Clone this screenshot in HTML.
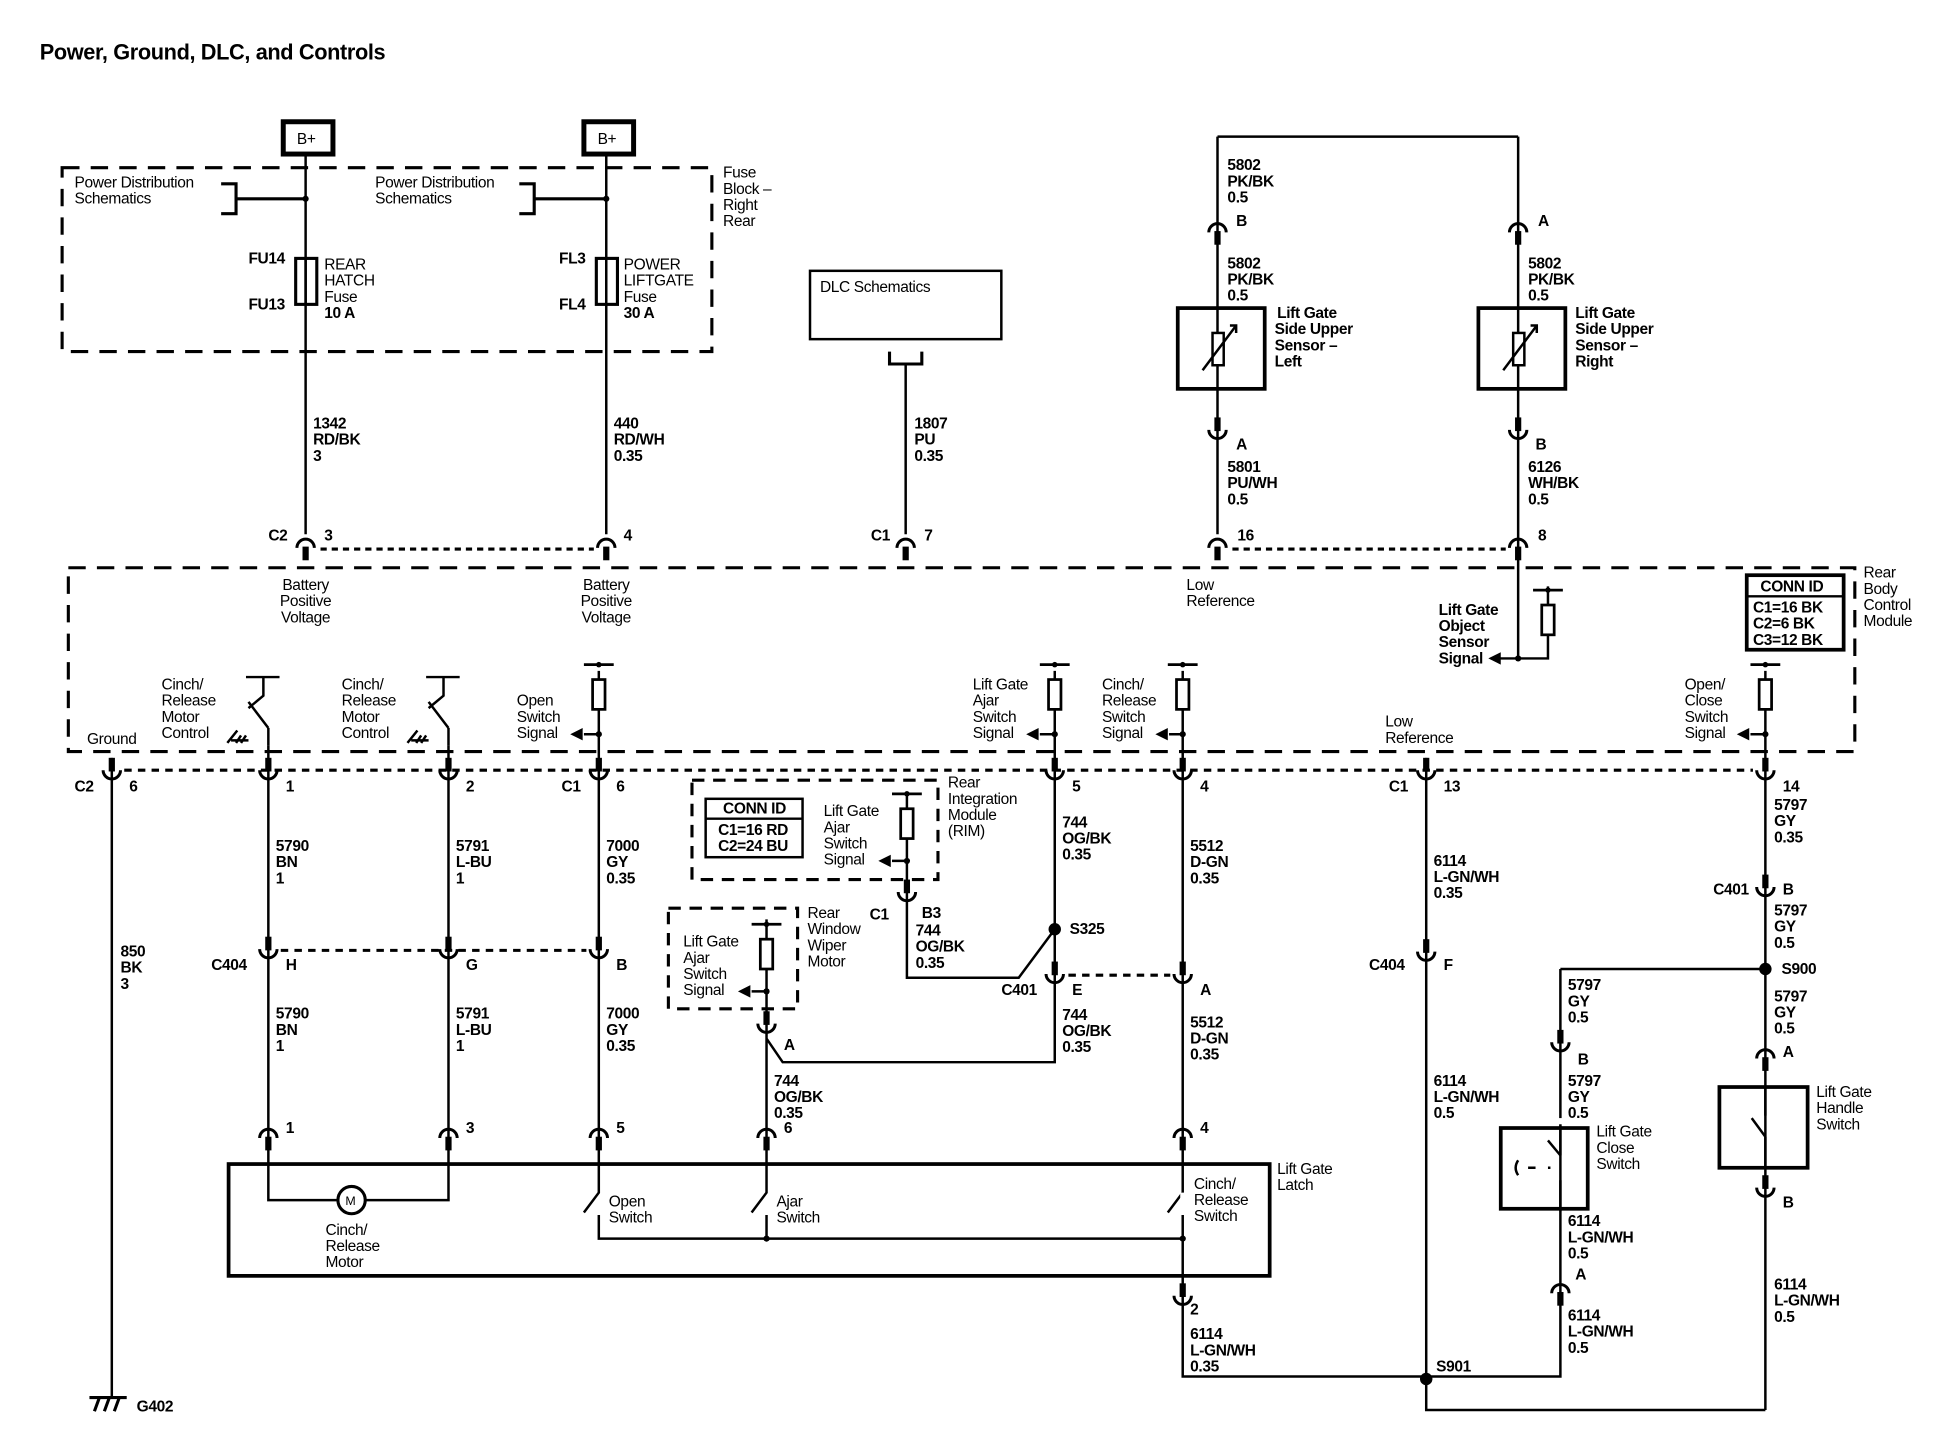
<!DOCTYPE html>
<html><head><meta charset="utf-8"><style>
html,body{margin:0;padding:0;background:#fff}
svg{display:block}
text{font-family:"Liberation Sans",Arial,sans-serif;font-size:12.5px;fill:#000;letter-spacing:-0.3px}
.b{font-weight:bold}
</style></head><body>
<svg width="1948" height="1456" viewBox="0 0 1568 1172" preserveAspectRatio="none" xmlns="http://www.w3.org/2000/svg">
<defs>
<g id="c"><path d="M-7,-4 A7,7 0 0 0 7,-4" fill="none" stroke="#000" stroke-width="2.4"/><rect x="-2.5" y="-14" width="5" height="11"/></g>
<g id="d"><path d="M-7,4 A7,7 0 0 1 7,4" fill="none" stroke="#000" stroke-width="2.4"/><rect x="-2.5" y="3" width="5" height="11"/></g>
<g id="r"><line x1="-12" y1="-22" x2="12" y2="-22" stroke="#000" stroke-width="2.2"/><circle cx="0" cy="-22" r="2.2"/><rect x="-5" y="-10" width="10" height="24" fill="#fff" stroke="#000" stroke-width="2.2"/></g>
</defs>
<g stroke="#000" fill="none" stroke-width="2">
<text x="32" y="48" class="b" style="font-size:17.5px;stroke:none">Power, Ground, DLC, and Controls</text>
<rect x="228" y="98" width="40" height="26" stroke-width="4"/>
<rect x="470" y="98" width="40" height="26" stroke-width="4"/>
<rect x="50" y="135" width="523" height="148" stroke-dasharray="14,9" stroke-width="2.5"/>
<rect x="55" y="457" width="1438" height="148" stroke-dasharray="14,9" stroke-width="2.5"/>
<rect x="557" y="628" width="198" height="80" stroke-dasharray="10,7" stroke-width="2.5"/>
<rect x="538" y="731" width="104" height="81" stroke-dasharray="10,7" stroke-width="2.5"/>
<rect x="568" y="643" width="78" height="47" stroke-width="2"/><line x1="568" y1="659" x2="646" y2="659"/>
<rect x="1406" y="463" width="78" height="60" stroke-width="3"/><line x1="1406" y1="480" x2="1484" y2="480"/>
<rect x="652" y="218" width="154" height="55"/>
<path d="M716,283 V293 H742 V283" stroke-width="2.5"/>
<path d="M246,126 V430 M488,126 V430 M729,293 V430"/>
<path d="M178,148 H190 V172 H178 M190,160 H246" stroke-width="2.5"/>
<path d="M418,148 H430 V172 H418 M430,160 H488" stroke-width="2.5"/>
<rect x="238" y="208" width="17" height="37" stroke-width="2.5"/><line x1="246" y1="208" x2="246" y2="245"/>
<rect x="480" y="208" width="17" height="37" stroke-width="2.5"/><line x1="488" y1="208" x2="488" y2="245"/>
<path d="M980,110 H1222 M980,110 V430 M1222,110 V530 H1200"/>
<rect x="948" y="248" width="70" height="65" stroke-width="3"/>
<rect x="1190" y="248" width="70" height="65" stroke-width="3"/>
<rect x="976" y="268" width="9" height="26" fill="#fff"/><line x1="968" y1="298" x2="995" y2="262"/><path d="M990,262 H995 V268"/>
<rect x="1218" y="268" width="9" height="26" fill="#fff"/><line x1="1210" y1="298" x2="1237" y2="262"/><path d="M1232,262 H1237 V268"/>
<path d="M1246,472 V530 H1222"/>
<path d="M258,442 H478 M992,442 H1212" stroke-dasharray="5,4" stroke-width="2.5"/>
<path d="M100,620 H1411" stroke-dasharray="6,5" stroke-width="2.5"/>
<path d="M226,765 H472" stroke-dasharray="6,5" stroke-width="2.5"/>
<path d="M860,785 H942" stroke-dasharray="6,5" stroke-width="2.5"/>
<path d="M216,600 V937 M361,600 V937 M482,540 V937 M849,540 V855 H630 L617,836 M617,740 V937 M952,540 V937 M1148,610 V1135 H1421 M1421,540 V1135 M90,610 V1125"/>
<path d="M730,637 V787 H820 L849,748"/>
<path d="M198,545 H225 M212,545 V560 L200,570 M216,586 L200,565"/>
<path d="M343,545 H370 M357,545 V560 L345,570 M361,586 L345,565"/>
<path d="M183,598 L191,588 M186,596 H200 M190,598 L194,592 M194,598 L198,592"/>
<path d="M328,598 L336,588 M331,596 H345 M335,598 L339,592 M339,598 L343,592"/>
<path d="M216,586 V600 M361,586 V600"/>
<rect x="184" y="937" width="838" height="90" stroke-width="3"/>
<path d="M216,937 V966 H272 M294,966 H361 V937"/>
<circle cx="283" cy="966" r="11" stroke-width="2.5"/>
<path d="M482,937 V960 L470,976 M482,978 V997 H952 M617,937 V960 L605,976 M617,978 V997 M952,937 V960 L940,976 M952,978 V1108 H1148"/>
<path d="M1256,780 H1421 M1256,780 V1108 H1148"/>
<rect x="1208" y="908" width="70" height="65" stroke-width="3"/>
<rect x="1384" y="875" width="71" height="65" stroke-width="3"/>
<rect x="1230" y="900" width="52" height="6" stroke="none" fill="#fff"/>
<path d="M1256,930 L1246,918 M1256,950 V975 M1256,905 V930"/>
<path d="M1248,940 H1246 M1230,940 H1236 M1222,934 Q1218,940 1222,946"/>
<path d="M1421,875 V898 M1421,915 L1410,900 M1421,915 V940"/>
<path d="M72,1125 H102 M76,1136 L80,1125 M84,1136 L88,1125 M92,1136 L96,1125" stroke-width="2.5"/>
</g>
<g fill="#000">
<rect x="950" y="960" width="4" height="18" fill="#fff"/>
<circle cx="246" cy="160" r="2.5"/><circle cx="488" cy="160" r="2.5"/>
<circle cx="849" cy="748" r="5"/><circle cx="1421" cy="780" r="5"/><circle cx="1148" cy="1110" r="5"/>
<circle cx="617" cy="997" r="2.5"/><circle cx="952" cy="997" r="2.5"/><circle cx="1222" cy="530" r="2.5"/>
<circle cx="482" cy="591" r="2.5"/><circle cx="849" cy="591" r="2.5"/><circle cx="952" cy="591" r="2.5"/><circle cx="1421" cy="591" r="2.5"/>
<circle cx="730" cy="693" r="2.5"/><circle cx="617" cy="798" r="2.5"/>
<path d="M1198,530 l10,-5 v10z"/>
<path d="M459,591 l10,-5 v10z M826,591 l10,-5 v10z M930,591 l10,-5 v10z M1398,591 l10,-5 v10z M707,693 l10,-5 v10z M594,798 l10,-5 v10z"/>
<path d="M470,591 H482 M837,591 H849 M941,591 H952 M1409,591 H1421 M718,693 H730 M605,798 H617" stroke="#000" stroke-width="2"/>
<use href="#r" x="1246" y="497"/><use href="#r" x="482" y="557"/><use href="#r" x="849" y="557"/><use href="#r" x="952" y="557"/><use href="#r" x="1421" y="557"/><use href="#r" x="730" y="661"/><use href="#r" x="617" y="766"/>
<use href="#d" x="246" y="437"/><use href="#d" x="488" y="437"/><use href="#d" x="729" y="437"/><use href="#d" x="980" y="437"/><use href="#d" x="1222" y="437"/>
<use href="#d" x="980" y="183"/><use href="#d" x="1222" y="183"/><use href="#c" x="980" y="350"/><use href="#c" x="1222" y="350"/>
<use href="#c" x="90" y="624"/><use href="#c" x="216" y="624"/><use href="#c" x="361" y="624"/><use href="#c" x="482" y="624"/><use href="#c" x="849" y="624"/><use href="#c" x="952" y="624"/><use href="#c" x="1148" y="624"/><use href="#c" x="1421" y="624"/>
<use href="#c" x="216" y="768"/><use href="#c" x="361" y="768"/><use href="#c" x="482" y="768"/><use href="#c" x="1148" y="770"/>
<use href="#c" x="849" y="788"/><use href="#c" x="952" y="788"/><use href="#c" x="730" y="722"/><use href="#c" x="617" y="828"/>
<use href="#d" x="216" y="912"/><use href="#d" x="361" y="912"/><use href="#d" x="482" y="912"/><use href="#d" x="617" y="912"/><use href="#d" x="952" y="912"/>
<use href="#c" x="1421" y="718"/><use href="#d" x="1421" y="848"/><use href="#c" x="1421" y="960"/>
<use href="#c" x="1256" y="843"/><use href="#d" x="1256" y="1037"/><use href="#c" x="952" y="1047"/>
</g>
<g>
<text x="239" y="116">B+</text><text x="481" y="116">B+</text>
<text x="60" y="151">Power Distribution<tspan x="60" dy="13">Schematics</tspan></text>
<text x="302" y="151">Power Distribution<tspan x="302" dy="13">Schematics</tspan></text>
<text x="582" y="143">Fuse<tspan x="582" dy="13">Block –</tspan><tspan x="582" dy="13">Right</tspan><tspan x="582" dy="13">Rear</tspan></text>
<text x="200" y="212" class="b">FU14</text><text x="200" y="249" class="b">FU13</text>
<text x="261" y="217">REAR<tspan x="261" dy="13">HATCH</tspan><tspan x="261" dy="13">Fuse</tspan><tspan x="261" dy="13" class="b">10 A</tspan></text>
<text x="450" y="212" class="b">FL3</text><text x="450" y="249" class="b">FL4</text>
<text x="502" y="217">POWER<tspan x="502" dy="13">LIFTGATE</tspan><tspan x="502" dy="13">Fuse</tspan><tspan x="502" dy="13" class="b">30 A</tspan></text>
<text x="660" y="235">DLC Schematics</text>
<g class="b">
<text x="252" y="345">1342<tspan x="252" dy="13">RD/BK</tspan><tspan x="252" dy="13">3</tspan></text>
<text x="494" y="345">440<tspan x="494" dy="13">RD/WH</tspan><tspan x="494" dy="13">0.35</tspan></text>
<text x="736" y="345">1807<tspan x="736" dy="13">PU</tspan><tspan x="736" dy="13">0.35</tspan></text>
<text x="988" y="137">5802<tspan x="988" dy="13">PK/BK</tspan><tspan x="988" dy="13">0.5</tspan></text>
<text x="995" y="182">B</text><text x="1238" y="182">A</text>
<text x="988" y="216">5802<tspan x="988" dy="13">PK/BK</tspan><tspan x="988" dy="13">0.5</tspan></text>
<text x="1230" y="216">5802<tspan x="1230" dy="13">PK/BK</tspan><tspan x="1230" dy="13">0.5</tspan></text>
<text x="995" y="362">A</text><text x="1236" y="362">B</text>
<text x="988" y="380">5801<tspan x="988" dy="13">PU/WH</tspan><tspan x="988" dy="13">0.5</tspan></text>
<text x="1230" y="380">6126<tspan x="1230" dy="13">WH/BK</tspan><tspan x="1230" dy="13">0.5</tspan></text>
<text x="216" y="435">C2</text><text x="261" y="435">3</text><text x="502" y="435">4</text><text x="701" y="435">C1</text><text x="744" y="435">7</text><text x="996" y="435">16</text><text x="1238" y="435">8</text>
<text x="60" y="637">C2</text><text x="104" y="637">6</text><text x="230" y="637">1</text><text x="375" y="637">2</text><text x="452" y="637">C1</text><text x="496" y="637">6</text><text x="863" y="637">5</text><text x="966" y="637">4</text><text x="1118" y="637">C1</text><text x="1162" y="637">13</text><text x="1435" y="637">14</text>
<text x="222" y="685">5790<tspan x="222" dy="13">BN</tspan><tspan x="222" dy="13">1</tspan></text>
<text x="367" y="685">5791<tspan x="367" dy="13">L-BU</tspan><tspan x="367" dy="13">1</tspan></text>
<text x="488" y="685">7000<tspan x="488" dy="13">GY</tspan><tspan x="488" dy="13">0.35</tspan></text>
<text x="855" y="666">744<tspan x="855" dy="13">OG/BK</tspan><tspan x="855" dy="13">0.35</tspan></text>
<text x="958" y="685">5512<tspan x="958" dy="13">D-GN</tspan><tspan x="958" dy="13">0.35</tspan></text>
<text x="1154" y="697">6114<tspan x="1154" dy="13">L-GN/WH</tspan><tspan x="1154" dy="13">0.35</tspan></text>
<text x="1428" y="652">5797<tspan x="1428" dy="13">GY</tspan><tspan x="1428" dy="13">0.35</tspan></text>
<text x="1379" y="720">C401</text><text x="1435" y="720">B</text>
<text x="1428" y="737">5797<tspan x="1428" dy="13">GY</tspan><tspan x="1428" dy="13">0.5</tspan></text>
<text x="1434" y="784">S900</text>
<text x="1428" y="806">5797<tspan x="1428" dy="13">GY</tspan><tspan x="1428" dy="13">0.5</tspan></text>
<text x="1262" y="797">5797<tspan x="1262" dy="13">GY</tspan><tspan x="1262" dy="13">0.5</tspan></text>
<text x="1270" y="857">B</text><text x="1435" y="851">A</text>
<text x="1262" y="874">5797<tspan x="1262" dy="13">GY</tspan><tspan x="1262" dy="13">0.5</tspan></text>
<text x="1435" y="972">B</text>
<text x="1262" y="987">6114<tspan x="1262" dy="13">L-GN/WH</tspan><tspan x="1262" dy="13">0.5</tspan></text>
<text x="1268" y="1030">A</text>
<text x="1262" y="1063">6114<tspan x="1262" dy="13">L-GN/WH</tspan><tspan x="1262" dy="13">0.5</tspan></text>
<text x="1428" y="1038">6114<tspan x="1428" dy="13">L-GN/WH</tspan><tspan x="1428" dy="13">0.5</tspan></text>
<text x="1154" y="874">6114<tspan x="1154" dy="13">L-GN/WH</tspan><tspan x="1154" dy="13">0.5</tspan></text>
<text x="1102" y="781">C404</text><text x="1162" y="781">F</text>
<text x="1156" y="1104">S901</text>
<text x="958" y="1058">2</text>
<text x="958" y="1078">6114<tspan x="958" dy="13">L-GN/WH</tspan><tspan x="958" dy="13">0.35</tspan></text>
<text x="97" y="770">850<tspan x="97" dy="13">BK</tspan><tspan x="97" dy="13">3</tspan></text>
<text x="170" y="781">C404</text><text x="230" y="781">H</text><text x="375" y="781">G</text><text x="496" y="781">B</text>
<text x="222" y="820">5790<tspan x="222" dy="13">BN</tspan><tspan x="222" dy="13">1</tspan></text>
<text x="367" y="820">5791<tspan x="367" dy="13">L-BU</tspan><tspan x="367" dy="13">1</tspan></text>
<text x="488" y="820">7000<tspan x="488" dy="13">GY</tspan><tspan x="488" dy="13">0.35</tspan></text>
<text x="700" y="740">C1</text><text x="742" y="739">B3</text>
<text x="737" y="753">744<tspan x="737" dy="13">OG/BK</tspan><tspan x="737" dy="13">0.35</tspan></text>
<text x="861" y="752">S325</text>
<text x="806" y="801">C401</text><text x="863" y="801">E</text><text x="966" y="801">A</text>
<text x="855" y="821">744<tspan x="855" dy="13">OG/BK</tspan><tspan x="855" dy="13">0.35</tspan></text>
<text x="958" y="827">5512<tspan x="958" dy="13">D-GN</tspan><tspan x="958" dy="13">0.35</tspan></text>
<text x="631" y="845">A</text>
<text x="623" y="874">744<tspan x="623" dy="13">OG/BK</tspan><tspan x="623" dy="13">0.35</tspan></text>
<text x="631" y="912">6</text>
<text x="230" y="912">1</text><text x="375" y="912">3</text><text x="496" y="912">5</text><text x="966" y="912">4</text>
<text x="110" y="1136">G402</text>
<text x="582" y="655">CONN ID</text>
<text x="578" y="672">C1=16 RD<tspan x="578" dy="13">C2=24 BU</tspan></text>
<text x="1417" y="476">CONN ID</text>
<text x="1411" y="493">C1=16 BK<tspan x="1411" dy="13">C2=6 BK</tspan><tspan x="1411" dy="13">C3=12 BK</tspan></text>
<text x="1028" y="256">Lift Gate<tspan x="1026" dy="13">Side Upper</tspan><tspan x="1026" dy="13">Sensor –</tspan><tspan x="1026" dy="13">Left</tspan></text>
<text x="1268" y="256">Lift Gate<tspan x="1268" dy="13">Side Upper</tspan><tspan x="1268" dy="13">Sensor –</tspan><tspan x="1268" dy="13">Right</tspan></text>
<text x="1158" y="495">Lift Gate<tspan x="1158" dy="13">Object</tspan><tspan x="1158" dy="13">Sensor</tspan><tspan x="1158" dy="13">Signal</tspan></text>
</g>
<text x="1500" y="465">Rear<tspan x="1500" dy="13">Body</tspan><tspan x="1500" dy="13">Control</tspan><tspan x="1500" dy="13">Module</tspan></text>
<text x="246" y="475" text-anchor="middle">Battery<tspan x="246" dy="13">Positive</tspan><tspan x="246" dy="13">Voltage</tspan></text>
<text x="488" y="475" text-anchor="middle">Battery<tspan x="488" dy="13">Positive</tspan><tspan x="488" dy="13">Voltage</tspan></text>
<text x="955" y="475">Low<tspan x="955" dy="13">Reference</tspan></text>
<text x="1115" y="585">Low<tspan x="1115" dy="13">Reference</tspan></text>
<text x="70" y="599">Ground</text>
<text x="130" y="555">Cinch/<tspan x="130" dy="13">Release</tspan><tspan x="130" dy="13">Motor</tspan><tspan x="130" dy="13">Control</tspan></text>
<text x="275" y="555">Cinch/<tspan x="275" dy="13">Release</tspan><tspan x="275" dy="13">Motor</tspan><tspan x="275" dy="13">Control</tspan></text>
<text x="416" y="568">Open<tspan x="416" dy="13">Switch</tspan><tspan x="416" dy="13">Signal</tspan></text>
<text x="783" y="555">Lift Gate<tspan x="783" dy="13">Ajar</tspan><tspan x="783" dy="13">Switch</tspan><tspan x="783" dy="13">Signal</tspan></text>
<text x="887" y="555">Cinch/<tspan x="887" dy="13">Release</tspan><tspan x="887" dy="13">Switch</tspan><tspan x="887" dy="13">Signal</tspan></text>
<text x="1356" y="555">Open/<tspan x="1356" dy="13">Close</tspan><tspan x="1356" dy="13">Switch</tspan><tspan x="1356" dy="13">Signal</tspan></text>
<text x="663" y="657">Lift Gate<tspan x="663" dy="13">Ajar</tspan><tspan x="663" dy="13">Switch</tspan><tspan x="663" dy="13">Signal</tspan></text>
<text x="763" y="634">Rear<tspan x="763" dy="13">Integration</tspan><tspan x="763" dy="13">Module</tspan><tspan x="763" dy="13">(RIM)</tspan></text>
<text x="550" y="762">Lift Gate<tspan x="550" dy="13">Ajar</tspan><tspan x="550" dy="13">Switch</tspan><tspan x="550" dy="13">Signal</tspan></text>
<text x="650" y="739">Rear<tspan x="650" dy="13">Window</tspan><tspan x="650" dy="13">Wiper</tspan><tspan x="650" dy="13">Motor</tspan></text>
<text x="1028" y="945">Lift Gate<tspan x="1028" dy="13">Latch</tspan></text>
<text x="262" y="994">Cinch/<tspan x="262" dy="13">Release</tspan><tspan x="262" dy="13">Motor</tspan></text>
<text x="490" y="971">Open<tspan x="490" dy="13">Switch</tspan></text>
<text x="625" y="971">Ajar<tspan x="625" dy="13">Switch</tspan></text>
<text x="961" y="957">Cinch/<tspan x="961" dy="13">Release</tspan><tspan x="961" dy="13">Switch</tspan></text>
<text x="1285" y="915">Lift Gate<tspan x="1285" dy="13">Close</tspan><tspan x="1285" dy="13">Switch</tspan></text>
<text x="1462" y="883">Lift Gate<tspan x="1462" dy="13">Handle</tspan><tspan x="1462" dy="13">Switch</tspan></text>
<text x="278" y="970" text-anchor="start" style="font-size:10px">M</text>
</g>
</svg>
</body></html>
